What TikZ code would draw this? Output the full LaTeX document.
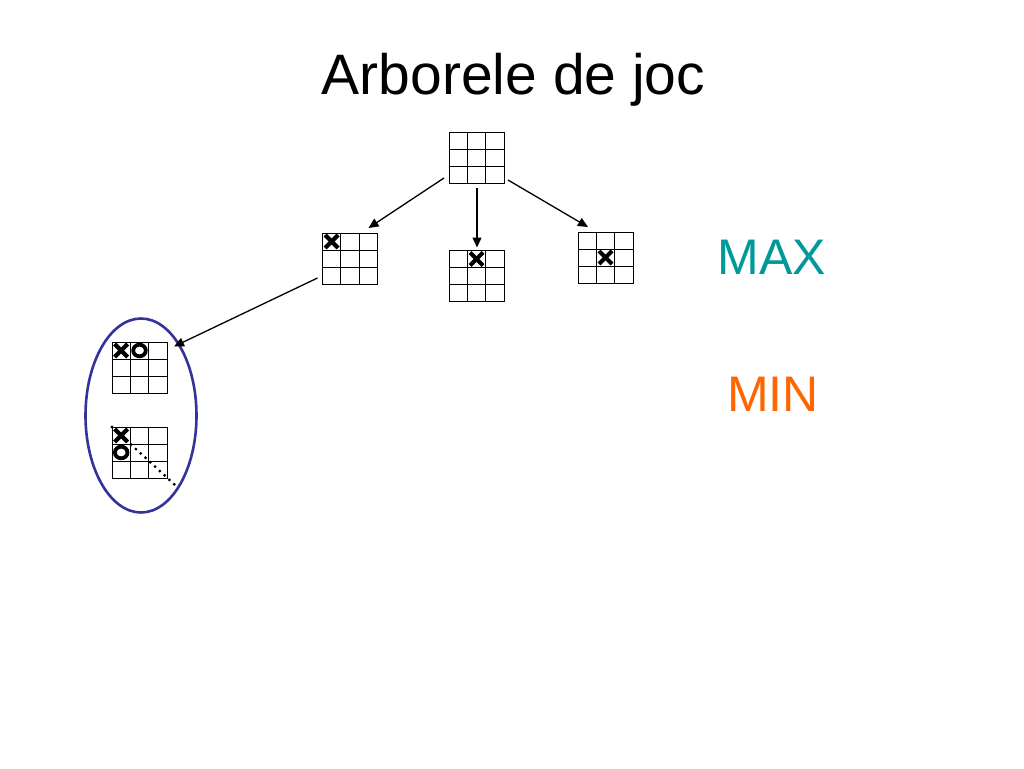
\documentclass[tikz,border=0pt]{standalone}
\usepackage{fontspec}
\setmainfont{Liberation Sans}
\usetikzlibrary{shapes.geometric,arrows.meta,calc}
\definecolor{maxc}{RGB}{0,153,153}
\definecolor{minc}{RGB}{255,102,0}
\definecolor{ellc}{RGB}{51,51,153}
\tikzset{
  board/.style={draw=black, line width=1pt, minimum width=55pt, minimum height=51pt, inner sep=0pt, outer sep=0pt},
  xmark/.style={line width=4.2pt, line cap=butt},
  omark/.style={line width=3.8pt},
  edge/.style={line width=1.3pt, -{Triangle[length=10pt,width=9pt]}},
  lbl/.style={anchor=base, inner sep=0pt, font=\fontsize{50}{60}\selectfont}
}
% draws the inner lines of a board
\newcommand{\boardlines}[1]{%
  \draw[line width=1pt] ($(#1.north west)!1/3!(#1.north east)$) -- ($(#1.south west)!1/3!(#1.south east)$);
  \draw[line width=1pt] ($(#1.north west)!2/3!(#1.north east)$) -- ($(#1.south west)!2/3!(#1.south east)$);
  \draw[line width=1pt] ($(#1.north west)!1/3!(#1.south west)$) -- ($(#1.north east)!1/3!(#1.south east)$);
  \draw[line width=1pt] ($(#1.north west)!2/3!(#1.south west)$) -- ($(#1.north east)!2/3!(#1.south east)$);
}
% X mark in cell (col,row) of board
\newcommand{\xin}[3]{%
  \draw[xmark] ([shift={({(#2+0.5)*55/3-6.5},{(#3+0.5)*17-6.5})}]#1.north west) -- ++(13,13);
  \draw[xmark] ([shift={({(#2+0.5)*55/3+6.5},{(#3+0.5)*17-6.5})}]#1.north west) -- ++(-13,13);
}
\newcommand{\oin}[3]{%
  \draw[omark] ([shift={({(#2+0.5)*55/3},{(#3+0.5)*17})}]#1.north west) circle[x radius=6.3pt, y radius=5.8pt];
}
\begin{document}
\begin{tikzpicture}[x=1pt,y=-1pt]
\useasboundingbox[fill=white] (0,0) rectangle (1024,768);

\node[anchor=base, inner sep=0pt, font=\fontsize{57}{68}\selectfont] (title) at (513.5,94) {Arborele de joc};

\node[board] (root) at (476.5,157.5) {};
\node[board] (lc) at (350,258.5) {};
\node[board] (mc) at (476.5,276) {};
\node[board] (rc) at (605.5,257.5) {};
\node[ellipse, draw=ellc, line width=2.6pt, minimum width=111pt, minimum height=194pt, inner sep=0pt] (ell) at (141,415.5) {};
\node[board] (b1) at (139.5,367.5) {};
\node[board] (b2) at (139.5,452.5) {};

\foreach \b in {root,lc,mc,rc,b1,b2} {\boardlines{\b}}

\xin{lc}{0}{0}
\xin{mc}{1}{0}
\xin{rc}{1}{1}
\xin{b1}{0}{0}
\oin{b1}{1}{0}
\xin{b2}{0}{0}
\oin{b2}{0}{1}

\coordinate (dend) at (175,485);
\draw[line width=3.2pt, line cap=round, dash pattern=on 0pt off 6.5pt] (b2.north west) -- (dend);

\draw[edge] ([shift={(-5,-5)}]root.south west) -- ([shift={(-9,-5)}]lc.north east);
\draw[edge] ([shift={(0.5,5)}]root.south) -- ([shift={(0.5,-3)}]mc.north);
\draw[edge] ([shift={(4,-3)}]root.south east) -- ([shift={(10,-5)}]rc.north west);
\draw[edge] ([shift={(-5,-6)}]lc.south west) -- ([shift={(33,-69)}]ell.center);

\node[lbl, text=maxc] (max) at (772,274) {MAX};
\node[lbl, text=minc] (min) at (773,411) {MIN};
\end{tikzpicture}
\end{document}
